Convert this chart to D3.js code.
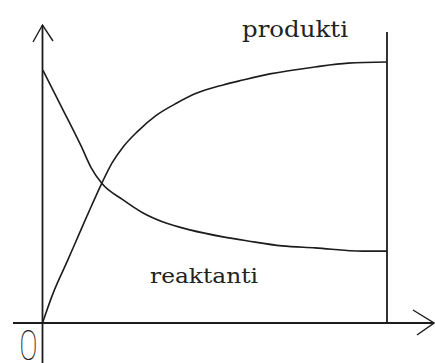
<!DOCTYPE html>
<html>
<head>
<meta charset="utf-8">
<script src="https://cdn.jsdelivr.net/npm/d3@7/dist/d3.min.js"></script>
<style>
  html, body { margin: 0; padding: 0; background: #fff; }
  svg { display: block; }
</style>
</head>
<body>
<script>
// Time axis (arbitrary units) and concentrations (% of scale)
const productTime  = [0, 0.30, 0.71, 1.09, 1.42, 1.72, 2.02, 2.34, 2.74, 3.32, 3.90, 4.48, 5.24, 5.82, 6.60, 7.91, 8.87, 10];
const productConc  = [0, 10.0, 21.0, 31.3, 40.2, 48.0, 55.0, 60.5, 65.6, 71.5, 75.6, 79.0, 81.8, 83.5, 85.6, 88.0, 89.3, 89.7];
const reactantTime = [0.01, 0.55, 1.13, 1.41, 1.72, 2.34, 2.92, 3.50, 4.28, 5.24, 5.96, 6.95, 7.91, 9.3, 10];
const reactantConc = [86.9, 74.3, 60.6, 53.4, 48.0, 42.3, 37.8, 34.7, 32.0, 29.6, 28.2, 26.5, 25.8, 24.7, 24.7];
const seriesLabels = ["produkti", "reaktanti"];
const originLabel = "0";

const W = 435, H = 363;
const svg = d3.select("body").append("svg").attr("width", W).attr("height", H);

const x = d3.scaleLinear().domain([0, 10]).range([42.5, 387]);
const y = d3.scaleLinear().domain([0, 100]).range([323, 32]);

const ink = "#1c1c1c";

// Axes
const g = svg.append("g").attr("fill", "none").attr("stroke", ink).attr("stroke-width", 1.8);
g.append("line").attr("x1", x(0)).attr("x2", x(0)).attr("y1", 25).attr("y2", H);
g.append("line").attr("x1", 13).attr("x2", 434).attr("y1", y(0)).attr("y2", y(0));
// arrowheads
g.append("path").attr("stroke-width", 1.4)
  .attr("d", `M33,42 L${x(0)},25 L53,41`);
g.append("path").attr("stroke-width", 1.4)
  .attr("d", `M413,310 L434,${y(0)} L417,335`);
// end-of-reaction marker
g.append("line").attr("x1", x(10)).attr("x2", x(10)).attr("y1", y(100)).attr("y2", y(0));

// Curves
const line = d3.line().x(d => x(d[0])).y(d => y(d[1])).curve(d3.curveMonotoneX);
svg.append("path")
  .datum(d3.zip(productTime, productConc))
  .attr("d", line).attr("fill", "none").attr("stroke", ink).attr("stroke-width", 1.6);
svg.append("path")
  .datum(d3.zip(reactantTime, reactantConc))
  .attr("d", line).attr("fill", "none").attr("stroke", ink).attr("stroke-width", 1.6);

// Labels
svg.append("text").text(seriesLabels[0])
  .attr("x", 242).attr("y", 37)
  .attr("font-family", "DejaVu Serif").attr("font-size", 23)
  .attr("textLength", 106).attr("lengthAdjust", "spacingAndGlyphs")
  .attr("fill", "#222");
svg.append("text").text(seriesLabels[1])
  .attr("x", 150).attr("y", 283)
  .attr("font-family", "DejaVu Serif").attr("font-size", 21)
  .attr("textLength", 108).attr("lengthAdjust", "spacingAndGlyphs")
  .attr("fill", "#222");
svg.append("text").text(originLabel)
  .attr("transform", "translate(28.5,360) scale(0.8,1)")
  .attr("text-anchor", "middle")
  .attr("font-family", "Roboto").attr("font-weight", 100).attr("font-size", 42)
  .attr("fill", "#222");
</script>
</body>
</html>
